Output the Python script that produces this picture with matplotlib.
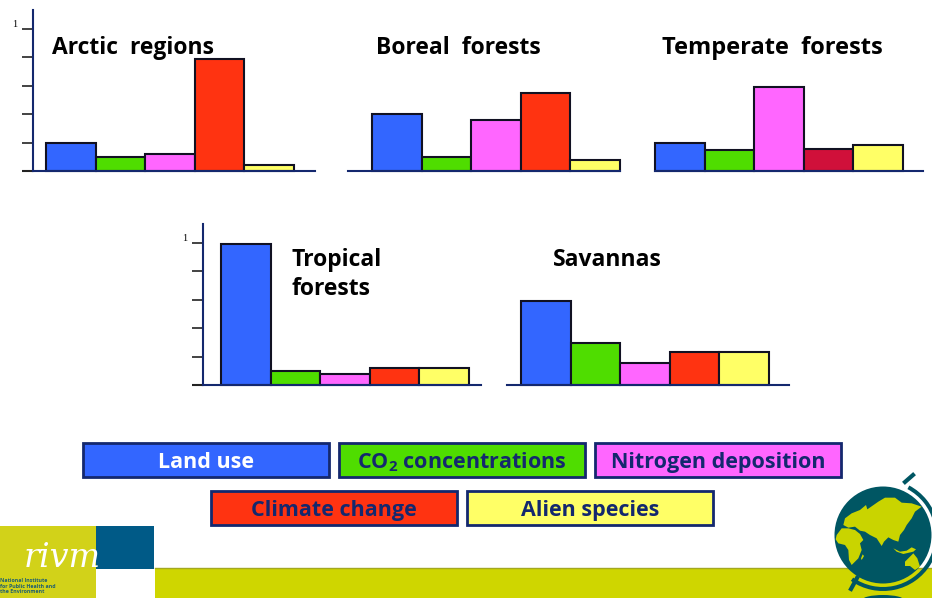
import matplotlib
matplotlib.use("Agg")
import matplotlib.pyplot as plt
from matplotlib.patches import Rectangle, Circle, Polygon, Wedge, Ellipse

W, H = 932, 598
plt.rcParams['font.family'] = ['Open Sans', 'DejaVu Sans']
plt.rcParams['mathtext.default'] = 'regular'

drivers = ["Land use", "CO$_2$ concentrations", "Nitrogen deposition", "Climate change", "Alien species"]
colors = ["#3366FF", "#4FDD00", "#FF66FF", "#FF3311", "#FFFF66"]
temperate_colors = ["#3366FF", "#4FDD00", "#FF66FF", "#D0103A", "#FFFF66"]
y_ticks = [0, 0.2, 0.4, 0.6, 0.8, 1]
y_labels = ["", "", "", "", "", "1"]

arctic = [0.20, 0.10, 0.12, 0.79, 0.04]
boreal = [0.40, 0.10, 0.36, 0.55, 0.08]
temperate = [0.20, 0.15, 0.59, 0.155, 0.18]
tropical = [0.995, 0.10, 0.08, 0.12, 0.12]
savannas = [0.595, 0.295, 0.155, 0.235, 0.235]

NAVY = "#14286E"
fig = plt.figure(figsize=(W / 100, H / 100), dpi=100, facecolor="white")

bg = fig.add_axes([0, 0, 1, 1], zorder=0)
bg.set_xlim(0, W); bg.set_ylim(H, 0); bg.axis("off")


def panel(vals, cols, x0, x1, start, base, top, has_y, title, tx, ty, tsize=16.5):
    unit = 49.6
    scale = 142.0
    ax = fig.add_axes([x0 / W, 1 - base / H, (x1 - x0) / W, (base - top) / H], zorder=2)
    ax.patch.set_alpha(0)
    ax.set_xlim((x0 - start) / unit, (x1 - start) / unit)
    ax.set_ylim(0, (base - top) / scale)
    ax.bar([i + 0.5 for i in range(5)], vals, width=1, color=cols, edgecolor="#111122", linewidth=1.5, zorder=3, clip_on=False)
    for s in ("top", "right"):
        ax.spines[s].set_visible(False)
    ax.spines["bottom"].set_color(NAVY)
    ax.spines["bottom"].set_linewidth(1.5)
    ax.spines["bottom"].set_zorder(4)
    ax.set_xticks([])
    if has_y:
        ax.spines["left"].set_color(NAVY)
        ax.spines["left"].set_linewidth(1.5)
        ax.set_yticks(y_ticks)
        ax.set_yticklabels(y_labels, fontsize=7.5, family="Liberation Serif", color="black")
        ax.tick_params(axis="y", length=8, width=1.2, color="#222222", pad=3)
        for lb in ax.get_yticklabels():
            lb.set_verticalalignment("bottom")
        ax.yaxis.get_major_ticks()[0].tick1line.set_color(NAVY)
        ax.yaxis.get_major_ticks()[0].tick1line.set_markeredgewidth(1.5)
    else:
        ax.spines["left"].set_visible(False)
        ax.set_yticks([])
    fig.text(tx / W, 1 - ty / H, title, fontsize=tsize, fontweight="bold", color="black",
             ha="left", va="center", linespacing=1.28, zorder=5)


panel(arctic, colors, 33, 315, 46, 171, 10, True, "Arctic  regions", 52, 48)
panel(boreal, colors, 348, 620, 372, 171, 60, False, "Boreal  forests", 376, 47.5)
panel(temperate, temperate_colors, 655, 923, 655, 171, 60, False, "Temperate  forests", 662, 47.5, 17)
panel(tropical, colors, 203, 481, 221, 385, 224, True, "Tropical\nforests", 292, 274.5)
panel(savannas, colors, 507, 789, 521, 385, 280, False, "Savannas", 553, 259.5)

# legend boxes
boxes = [(83, 443), (339, 443), (595, 443), (211, 491), (467, 491)]
for (bx, by), label, c in zip(boxes, drivers, colors):
    bg.add_patch(Rectangle((bx, by), 246, 34, facecolor=c, edgecolor=NAVY, linewidth=2))
    bg.text(bx + 123, by + 19.5, label, ha="center", va="center", fontsize=15.5, fontweight="bold",
            color="white" if label == "Land use" else NAVY)

# footer and logo
bg.add_patch(Rectangle((155, 568), W - 155, 30, facecolor="#CFD600", edgecolor="none"))
bg.plot([155, W], [567.5, 567.5], color="#A3A820", lw=1)
bg.add_patch(Rectangle((0, 526), 96, 72, facecolor="#D2D219", edgecolor="none"))
bg.add_patch(Rectangle((96, 526), 58, 43, facecolor="#005A87", edgecolor="none"))
bg.text(24, 558, "rivm", fontsize=24, family="DejaVu Serif", style="italic", color="white", va="center", ha="left", zorder=3)
bg.text(0, 586, "National Institute\nfor Public Health and\nthe Environment", fontsize=3.8, color="#1F5F70",
        fontweight="bold", va="center", ha="left", linespacing=1.2)

# globe
TEAL = "#005663"
LAND = "#C9D400"


def z(points):
    return [(780 + a / 3, 460 + b / 3) for a, b in points]


bg.add_patch(Wedge((883, 535), 56, -62, 125, width=4, facecolor=TEAL, edgecolor="none", zorder=2))
bg.plot([905, 913], [482, 475], color=TEAL, lw=3, zorder=2)
bg.plot([857, 851], [578, 589], color=TEAL, lw=3, zorder=2)
bg.add_patch(Circle((883, 535), 48.5, facecolor=TEAL, edgecolor="none", zorder=3))
bg.add_patch(Ellipse((883, 600), 42, 10, facecolor=TEAL, edgecolor="none", zorder=3))
eurasia = [(195, 175), (215, 160), (240, 150), (258, 135), (262, 148), (295, 125), (315, 113), (345, 113),
           (365, 128), (395, 130), (425, 140), (405, 155), (395, 175), (380, 195), (372, 210), (360, 225),
           (355, 245), (340, 240), (325, 232), (312, 245), (305, 258), (290, 235), (270, 225), (255, 215),
           (240, 212), (225, 200), (205, 203), (190, 195)]
africa = [(170, 225), (185, 205), (205, 205), (225, 210), (240, 222), (250, 240), (240, 250), (245, 270),
          (235, 295), (215, 315), (207, 300), (205, 270), (195, 255), (175, 250), (167, 238)]
australia = [(375, 305), (390, 290), (400, 280), (412, 295), (420, 320), (405, 330), (390, 318), (375, 318)]
indonesia = [(340, 265), (360, 275), (380, 272), (395, 262), (408, 268), (400, 275), (370, 282), (350, 275)]
madagascar = [(248, 283), (252, 288), (245, 300), (243, 295)]
for shape in (eurasia, africa, australia, indonesia, madagascar):
    bg.add_patch(Polygon(z(shape), closed=True, facecolor=LAND, edgecolor="none", zorder=4))

fig.savefig("out.png", dpi=100, facecolor="white")
